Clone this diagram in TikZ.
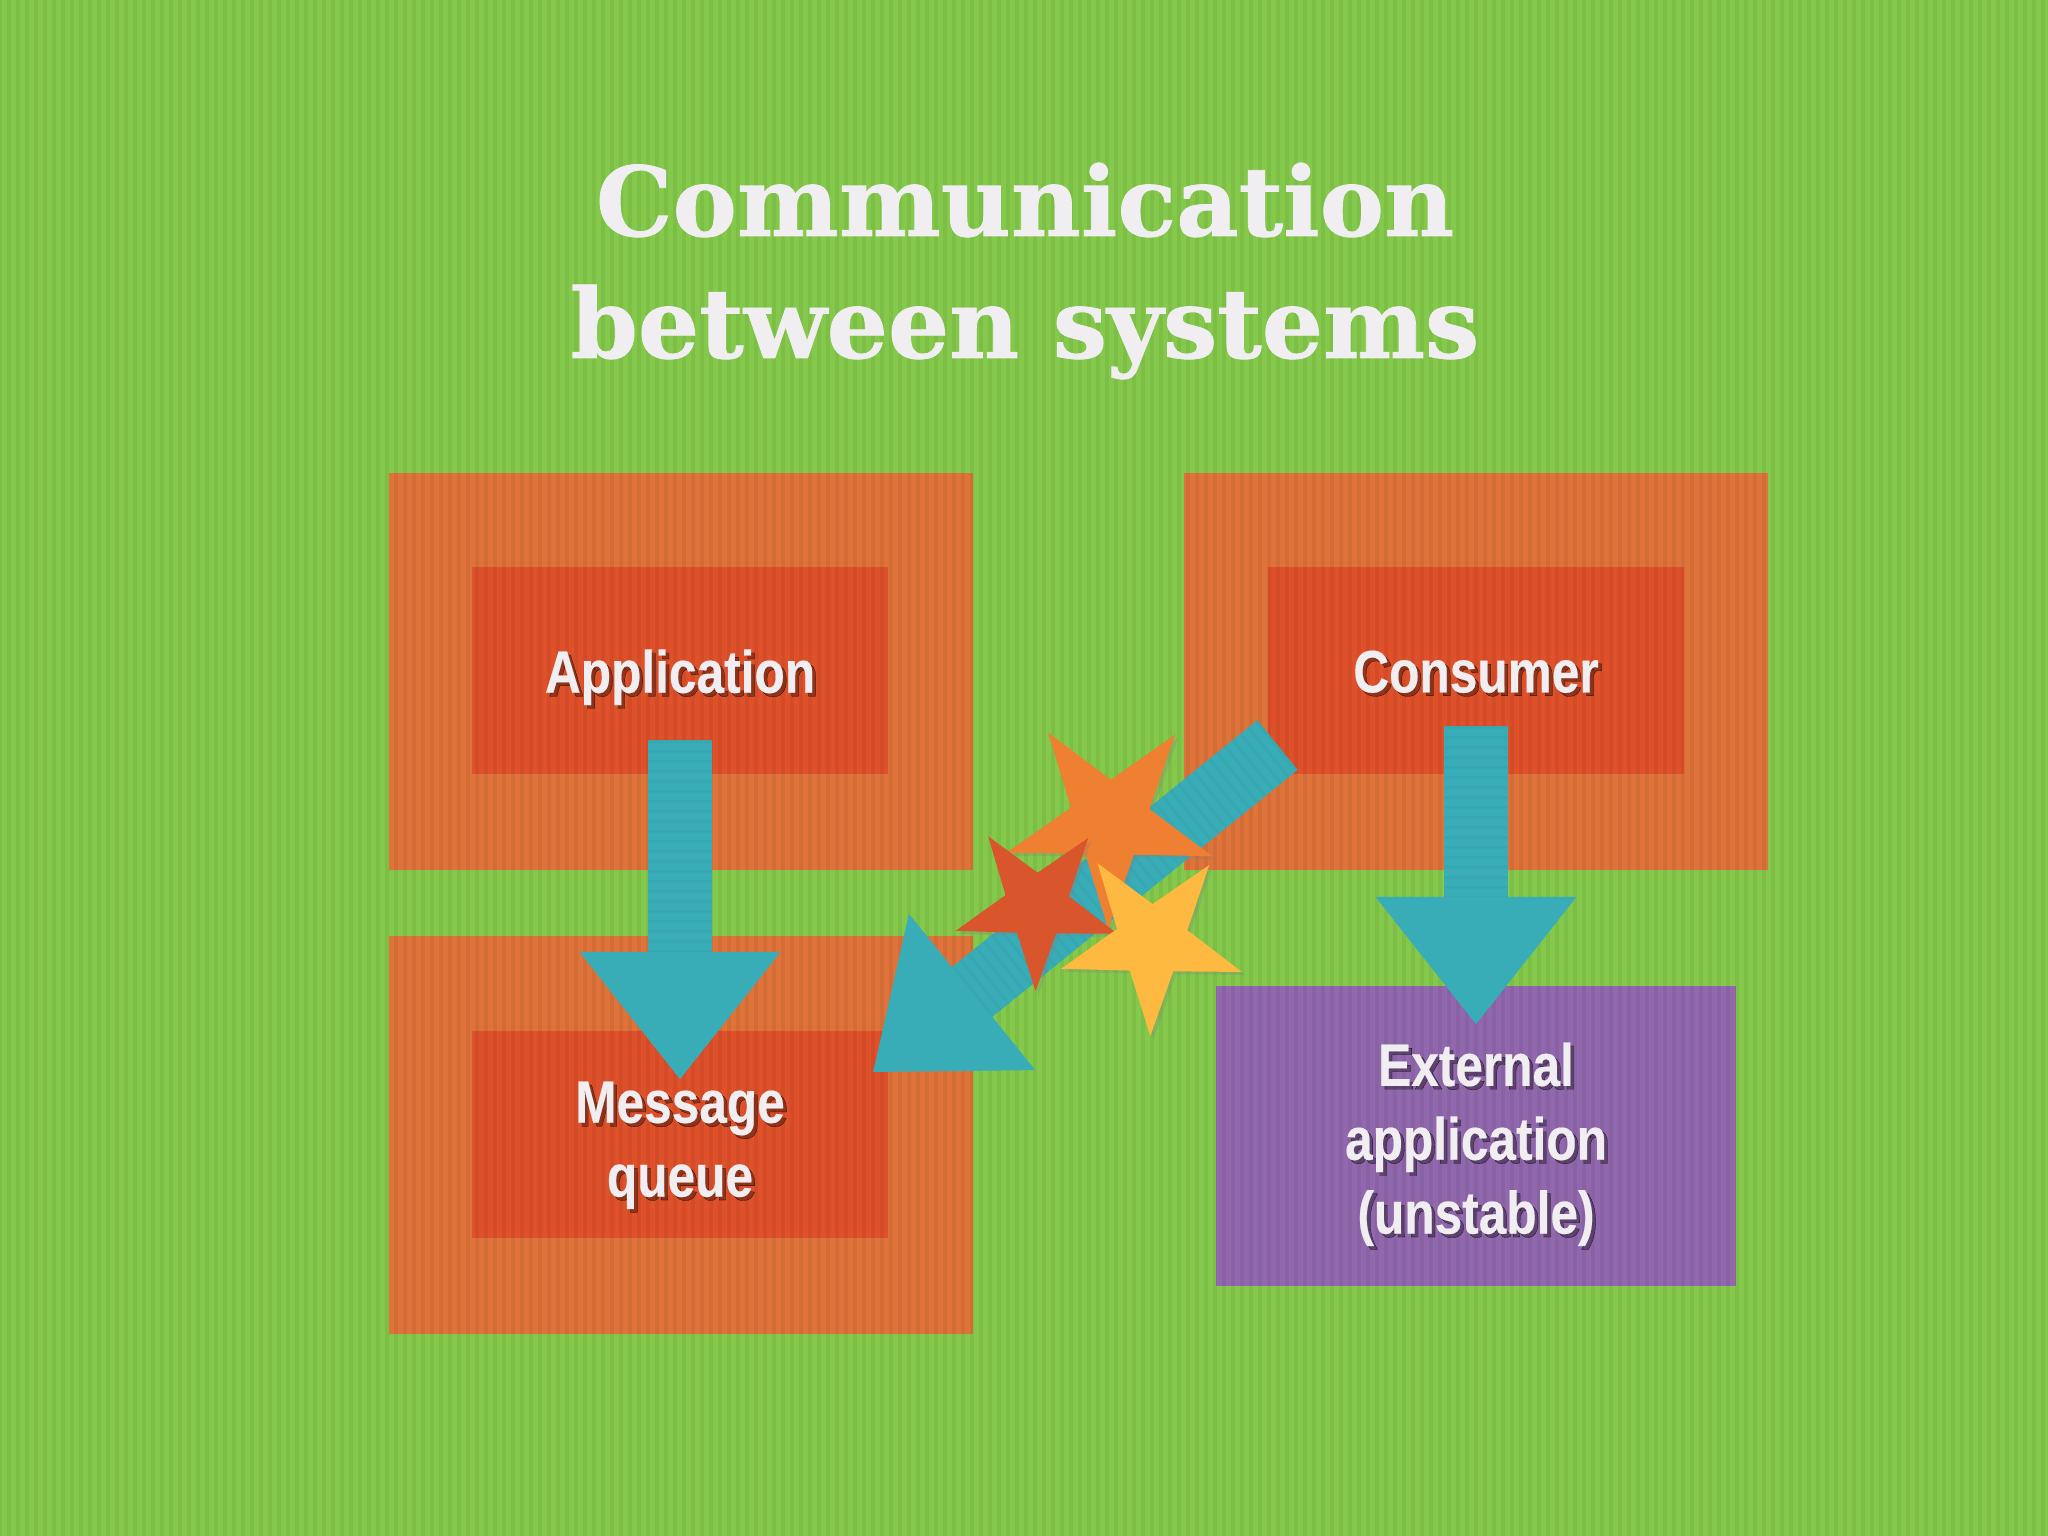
\documentclass[tikz,border=0pt]{standalone}
\usepackage{fontspec}
\setmainfont{Liberation Sans}[FakeStretch=0.83,BoldFeatures={FakeBold=0.3}]
\newfontfamily\titlefont{DejaVu Serif}[BoldFeatures={FakeBold=0.8}]
\usetikzlibrary{arrows.meta,shapes.geometric,shadows}
\definecolor{bggreen}{HTML}{84C94B}
\definecolor{outerorange}{HTML}{DF733A}
\definecolor{innerred}{HTML}{DF512A}
\definecolor{arrowteal}{HTML}{39ADB7}
\definecolor{boxpurple}{HTML}{9168AD}
\definecolor{paperwhite}{HTML}{F0EEF0}
\definecolor{starorange}{HTML}{EF7F31}
\definecolor{starred}{HTML}{D9552C}
\definecolor{staryellow}{HTML}{FDB940}
\newcommand{\softshade}[1]{\leavevmode\rlap{\kern.035cm\raisebox{-.035cm}{\pgfsetfillopacity{.35}\textcolor{black}{#1}\pgfsetfillopacity{1}}}#1}
\begin{document}
\begin{tikzpicture}[x=0.01cm, y=-0.01cm, inner sep=0pt, outer sep=0pt,
outerbox/.style={fill=outerorange, minimum width=5.84cm, minimum height=3.97cm},
innerbox/.style={fill=innerred, minimum width=4.16cm, minimum height=2.06cm},
boxlabel/.style={text=paperwhite, font=\fontsize{17}{21}\selectfont\bfseries, align=center},
blockarrow/.style={draw=arrowteal, line width=0.64cm, -{Triangle[length=1.28cm,width=1.92cm]}},
weave/.style={dash pattern=on 0.03cm off 0.07cm, draw=black, draw opacity=0.03, line width=0.64cm},
burst/.style={star, star points=5, shape border rotate=179, drop shadow={shadow xshift=0.03cm, shadow yshift=-0.03cm, opacity=0.25}}]
\useasboundingbox (0,0) rectangle (2048,1536);
\fill[bggreen] (0,0) rectangle (2048,1536);

\node[outerbox] (appouter) at (681,671.5) {};
\node[outerbox] (consouter) at (1476,671.5) {};
\node[outerbox] (queueouter) at (681,1135) {};
\node[innerbox] (appinner) at (680,670.5) {};
\node[innerbox] (consinner) at (1476,670.5) {};
\node[innerbox] (queueinner) at (680,1134.5) {};
\node[fill=boxpurple, minimum width=5.2cm, minimum height=3cm] (external) at (1476,1136) {};

% vertical weave of the paper
\foreach \x in {0,9,...,2048}
  \draw[black, opacity=0.05, line width=0.035cm] (\x,0)--(\x,1536);

\coordinate (apptail) at (680,740);
\coordinate (queuetip) at (680,1080);
\coordinate (constail) at (1476,726);
\coordinate (externaltip) at (1476,1025);
\coordinate (brokentail) at (1277.5,745);
\coordinate (brokentip) at (872.5,1072.5);
\draw[blockarrow] (apptail)--(queuetip);
\draw[blockarrow] (constail)--(externaltip);
\draw[blockarrow] (brokentail)--(brokentip);
\draw[weave] (apptail)--(680,952);
\draw[weave] (constail)--(1476,897);
\draw[weave] (brokentail)--(972,992);

\node[burst, fill=starorange, minimum size=2.16cm, star point ratio=2.62] (staro) at (1110,821) {};
\node[burst, fill=starred, minimum size=1.7cm, star point ratio=2.55] (starr) at (1037,906) {};
\node[burst, fill=staryellow, minimum size=1.9cm, star point ratio=2.57] (stary) at (1152,941) {};

\node[text=paperwhite, align=center, font=\titlefont\fontsize{27.4}{34.7}\selectfont\bfseries] (title) at (1025,271) {Communication\\between systems};
\node[boxlabel] (applabel) at (680,679) {\softshade{Application}};
\node[boxlabel] (conslabel) at (1476,673.5) {\softshade{Consumer}};
\node[boxlabel] (queuelabel) at (680,1147) {\softshade{Message}\\\softshade{queue}};
\node[boxlabel] (externallabel) at (1476,1146) {\softshade{External}\\\softshade{application}\\\softshade{(unstable)}};
\end{tikzpicture}
\end{document}
